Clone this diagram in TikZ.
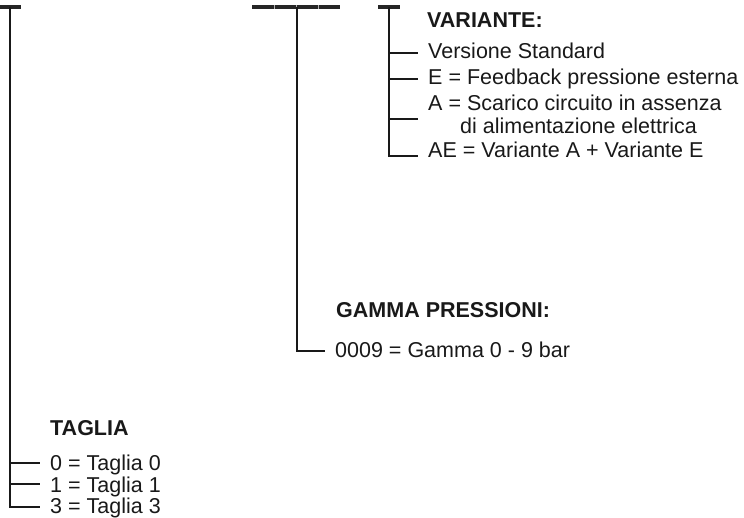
\documentclass[tikz,border=0pt]{standalone}
\usepackage{fontspec}
\setmainfont{Liberation Sans}
\begin{document}
\begin{tikzpicture}[x=1pt,y=-1pt,
  bar/.style={line width=4pt,draw=black!85},
  tree/.style={line width=1.3pt,draw=black!90},
  lbl/.style={inner sep=0pt,anchor=base west,font=\fontsize{21.5}{24}\selectfont,text=black!90},
  head/.style={lbl,font=\fontsize{21.5}{24}\selectfont\bfseries}]
\useasboundingbox (0,0) rectangle (744,517);
% bars
\coordinate (barLa) at (0,7); \coordinate (barLb) at (21,7);
\coordinate (barMa) at (252,7); \coordinate (barMb) at (340,7);
\coordinate (barRa) at (378,7); \coordinate (barRb) at (400,7);
\draw[bar] (barLa) -- (barLb);
\draw[bar] (barMa) -- (barMb);
\foreach \x in {274,296,318} \draw[white!70!black,line width=0.4pt] (\x,5) -- (\x,9);
\draw[bar] (barRa) -- (barRb);
% tops of verticals
\coordinate (tL) at (10,7);
\coordinate (tM) at (297,7);
\coordinate (tR) at (389,7);
% right group: VARIANTE
\node[head] (var) at (427,27) {VARIANTE:};
\node[lbl] (v1) at (428,58) {Versione Standard};
\node[lbl] (v2) at (428,84) {E = Feedback pressione esterna};
\node[lbl] (v3) at (428,110) {A = Scarico circuito in assenza};
\node[lbl] (v3b) at (460,133) {di alimentazione elettrica};
\node[lbl] (v4) at (428,157) {AE = Variante A + Variante E};
\coordinate (e1) at (418,53);
\coordinate (e2) at (418,79);
\coordinate (e3) at (418,119);
\coordinate (e4) at (418,156);
\draw[tree] (tR) |- (e4);
\foreach \e in {e1,e2,e3} \draw[tree] (tR |- \e) -- (\e);
% middle group: GAMMA
\node[head] (gam) at (336,317) {GAMMA PRESSIONI:};
\node[lbl] (g1) at (335,357) {0009 = Gamma 0 - 9 bar};
\coordinate (f1) at (325,351);
\draw[tree] (tM) |- (f1);
% left group: TAGLIA
\node[head] (tag) at (50,435) {TAGLIA};
\node[lbl] (t0) at (50,470) {0 = Taglia 0};
\node[lbl] (t1) at (50,492) {1 = Taglia 1};
\node[lbl] (t3) at (50,513) {3 = Taglia 3};
\coordinate (h0) at (40,463);
\coordinate (h1) at (40,484);
\coordinate (h3) at (40,507);
\draw[tree] (tL) |- (h3);
\foreach \h in {h0,h1} \draw[tree] (tL |- \h) -- (\h);
\end{tikzpicture}
\end{document}
